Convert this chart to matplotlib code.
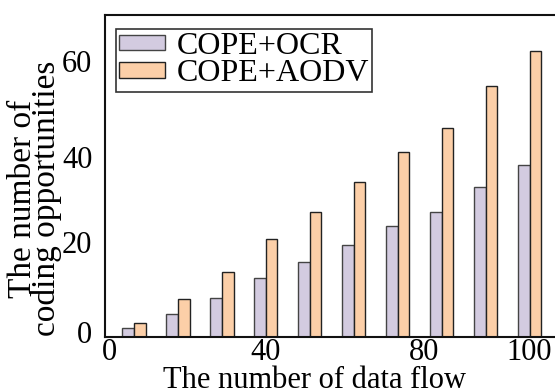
import matplotlib
matplotlib.use('Agg')
import matplotlib.pyplot as plt
import numpy as np

plt.rcParams['font.family'] = ['Liberation Serif', 'DejaVu Serif']

flows = [10, 20, 30, 40, 50, 60, 70, 80, 90, 100]
ocr = [1.9, 5.0, 8.4, 12.8, 16.2, 20.1, 24.1, 27.1, 32.7, 37.4]
aodv = [3.1, 8.3, 14.2, 21.2, 27.1, 33.6, 40.2, 45.4, 54.5, 62.2]
xtick_pos = [4.5, 40, 76, 100]
xtick_lab = ['0', '40', '80', '100']
ytick_pos = [1, 20.7, 39.1, 60]
ytick_lab = ['0', '20', '40', '60']

fig = plt.figure(figsize=(5.55, 3.91), dpi=100)
ax = fig.add_axes([0.189, 0.138, 0.815, 0.824])

x = np.array(flows)
w = 2.65
ax.bar(x - w/2, ocr, w, color='#d3cbe0', edgecolor='#444444', linewidth=1.0, label='COPE+OCR')
ax.bar(x + w/2, aodv, w, color='#fccfa8', edgecolor='#222222', linewidth=1.0, label='COPE+AODV')

ax.set_xlim(3.38, 106.3)
ax.set_ylim(0, 70)
ax.set_xticks(xtick_pos)
ax.set_xticklabels(xtick_lab)
ax.set_yticks(ytick_pos)
ax.set_yticklabels(ytick_lab)
ax.tick_params(axis='both', length=0, labelsize=22)
ax.tick_params(axis='x', pad=1)
ax.tick_params(axis='y', pad=9)
for s in ['top', 'bottom', 'left', 'right']:
    ax.spines[s].set_linewidth(1.5)
    ax.spines[s].set_color('#111111')

ax.set_xlabel('The number of data flow', fontsize=22)
ax.xaxis.set_label_coords(0.463, -0.09, transform=ax.transAxes)
ax.xaxis.label.set_verticalalignment('top')
ax.set_ylabel('The number of\ncoding opportunities', fontsize=24, linespacing=0.7)
ax.yaxis.label.set_verticalalignment('center')
ax.yaxis.set_label_coords(-0.155, 0.43, transform=ax.transAxes)

leg = ax.legend(loc='upper left', bbox_to_anchor=(0.024, 0.957), fontsize=23, frameon=True,
                fancybox=False, edgecolor='black', handlelength=1.45, handleheight=0.38,
                labelspacing=-0.05, borderpad=0.1, handletextpad=0.35, borderaxespad=0.0)
leg.get_frame().set_linewidth(1.2)

fig.savefig('out.png', dpi=100)
